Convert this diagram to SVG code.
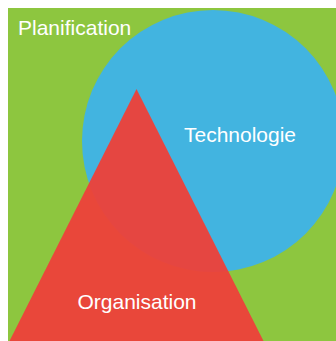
<svg xmlns="http://www.w3.org/2000/svg" width="336" height="341" viewBox="0 0 336 341">
  <style>
    .lbl { font-family: "Liberation Sans", Arial, sans-serif; font-size: 21px; fill: #ffffff; }
  </style>
  <rect width="336" height="341" fill="#ffffff"/>
  <g id="planification">
    <rect x="8" y="8" width="328" height="333" fill="#8dc63f"/>
    <text class="lbl" x="18" y="35">Planification</text>
  </g>
  <g id="technologie">
    <circle cx="213" cy="141" r="131" fill="#42b4e0"/>
    <text class="lbl" x="240" y="142" text-anchor="middle">Technologie</text>
  </g>
  <g id="organisation">
    <polygon points="136.5,89 263.5,341 9.5,341" fill="#ec423a" fill-opacity="0.96"/>
    <text class="lbl" x="137" y="309" text-anchor="middle">Organisation</text>
  </g>
</svg>
